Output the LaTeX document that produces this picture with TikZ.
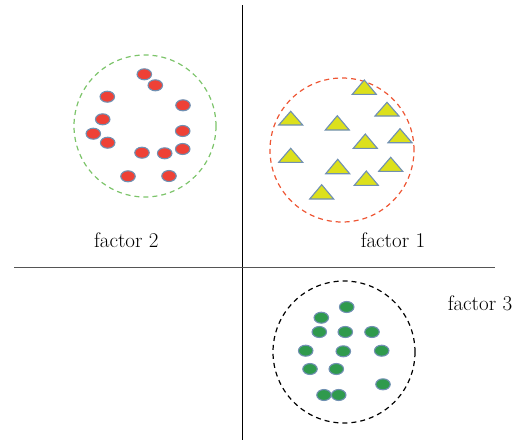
\documentclass[tikz,border=0pt]{standalone}
\usetikzlibrary{shapes.geometric}
\definecolor{dotred}{HTML}{EE4136}
\definecolor{dotgreen}{HTML}{2F9A4D}
\definecolor{triyel}{HTML}{DCE01C}
\definecolor{rimblue}{HTML}{7090B2}
\definecolor{ringgreen}{HTML}{7CC46A}
\definecolor{ringred}{HTML}{EE5634}
\definecolor{axisgray}{HTML}{555555}
\tikzset{
  reddot/.style={ellipse, fill=dotred, draw=rimblue, line width=1.1pt, minimum width=14.5pt, minimum height=11pt, inner sep=0pt},
  greendot/.style={ellipse, fill=dotgreen, draw=rimblue, line width=1.1pt, minimum width=14.5pt, minimum height=11pt, inner sep=0pt},
  tri/.style={fill=triyel, draw=rimblue, line width=1.1pt, line join=miter},
  ring/.style={dashed, dash pattern=on 5pt off 4pt, line width=1.2pt},
  label/.style={font=\fontsize{21}{24}\selectfont, text=black, inner sep=0pt, anchor=base}
}
\begin{document}
\begin{tikzpicture}[x=1pt,y=-1pt]
\useasboundingbox (0,0) rectangle (520,440);
% axes
\coordinate (vtop) at (242.3,5);
\coordinate (vbot) at (242.3,440);
\coordinate (hl) at (14,267.7);
\coordinate (hr) at (495,267.7);
\draw[line width=1.2pt, black] (vtop) -- (vbot);
\draw[line width=1.4pt, axisgray] (hl) -- (hr);
% rings
\node[draw=ringgreen, ring, circle, minimum size=142pt, inner sep=0pt] (ring2) at (145,126) {};
\node[draw=ringred, ring, circle, minimum size=144pt, inner sep=0pt] (ring1) at (342,150) {};
\node[draw=black, ring, circle, minimum size=142pt, inner sep=0pt] (ring3) at (344,352) {};
% red dots (factor 2)
\foreach \x/\y [count=\i] in {144.3/74.3, 155.3/85.3, 107.3/96.7, 183/105.3, 102.7/119.3, 93.3/133.7, 107.7/142.7, 182.7/131, 182.7/149, 142/152.7, 164.7/153.3, 128/176.3, 169/176}
  \node[reddot] (r\i) at (\x,\y) {};
% triangles (factor 1)
\foreach \x/\a/\b in {364.3/80/94.3, 387/102.3/116, 290.7/111.3/125, 337.3/115.7/130, 400/128.7/142.7, 365.3/134/148.3, 290.7/148.3/162.3, 337.7/159.3/173.7, 390.7/157.3/171.3, 366.3/171/185.3, 321.7/184.7/199}
  \draw[tri] (\x-12,\b) -- (\x+12,\b) -- (\x,\a) -- cycle;
% green dots (factor 3)
\foreach \x/\y [count=\i] in {346.7/307, 321.3/317.7, 319.3/332, 345.3/332, 372/332, 305.7/350.7, 343.3/351.3, 381.7/350.7, 310/369, 336.3/369, 383/384.3, 324/395, 338.7/395}
  \node[greendot] (g\i) at (\x,\y) {};
% labels
\node[label] (f2) at (126.3,247) {factor 2};
\node[label] (f1) at (393,247) {factor 1};
\node[label] (f3) at (480,310.7) {factor 3};
\end{tikzpicture}
\end{document}
